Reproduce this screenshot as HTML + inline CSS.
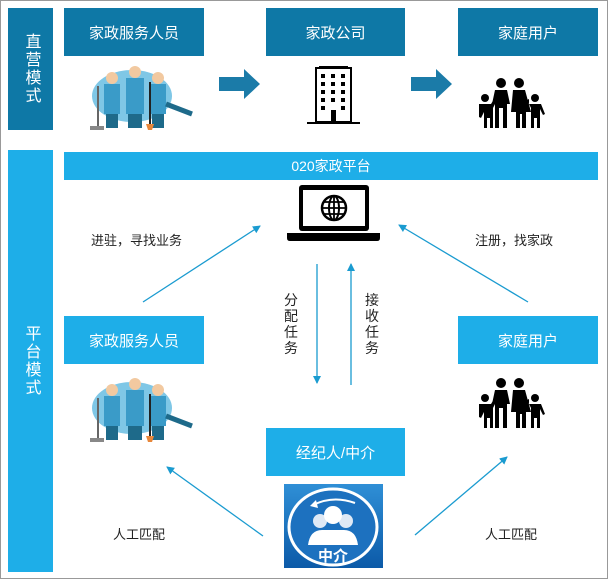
<!DOCTYPE html>
<html><head><meta charset="utf-8"><style>
*{margin:0;padding:0}
body{width:608px;height:579px;background:#fff;position:relative;overflow:hidden;font-family:"Liberation Sans","Noto Sans CJK SC",sans-serif}
.b{position:absolute;color:#fff;font-size:15px;display:flex;align-items:center;justify-content:center}
.d{background:#0e78a6}.l{background:#1eaee8}
.t{position:absolute;font-size:13px;color:#222}
.v{position:absolute;font-size:14px;color:#222;width:16px;line-height:16px;text-align:center}
</style></head><body>
<div style="position:absolute;left:0;top:0;width:606px;height:577px;border:1px solid #999"></div>
<div class="b d" style="left:8px;top:8px;width:45px;height:122px;writing-mode:vertical-rl;letter-spacing:2px;font-size:16px">直营模式</div>
<div class="b l" style="left:8px;top:150px;width:45px;height:422px;writing-mode:vertical-rl;letter-spacing:2px;font-size:16px">平台模式</div>
<div class="b d" style="left:64px;top:8px;width:140px;height:48px">家政服务人员</div>
<div class="b d" style="left:266px;top:8px;width:139px;height:48px">家政公司</div>
<div class="b d" style="left:458px;top:8px;width:140px;height:48px">家庭用户</div>
<div class="b l" style="left:64px;top:152px;width:534px;height:28px;font-size:14px">020家政平台</div>
<div class="b l" style="left:64px;top:316px;width:140px;height:48px">家政服务人员</div>
<div class="b l" style="left:458px;top:316px;width:140px;height:48px">家庭用户</div>
<div class="b l" style="left:266px;top:428px;width:139px;height:48px">经纪人/中介</div>
<div class="t" style="left:91px;top:230px">进驻，寻找业务</div>
<div class="t" style="left:475px;top:230px">注册，找家政</div>
<div class="t" style="left:113px;top:524px">人工匹配</div>
<div class="t" style="left:485px;top:524px">人工匹配</div>
<div class="v" style="left:283px;top:292px">分配任务</div>
<div class="v" style="left:364px;top:292px">接收任务</div>
<svg width="608" height="579" style="position:absolute;left:0;top:0">
<defs>
<marker id="a" markerWidth="8" markerHeight="8" refX="7" refY="4" orient="auto" markerUnits="userSpaceOnUse"><path d="M0,0L8,4L0,8z" fill="#1a9bd0"/></marker>
<g id="fam" fill="#000">
<circle cx="26" cy="5" r="5"/><path d="M20,12h12l3,14h-3v24h-4v-20h-4v20h-4v-24h-3z"/>
<circle cx="44" cy="5" r="5"/><path d="M38,12h12l6,22h-5l0,16h-4v-14h-2v14h-4v-16h-5z"/>
<circle cx="10" cy="20" r="4"/><path d="M4,26h12l5,-8 2,2-5,10v20h-3v-10h-3v10h-3v-16l-3,6-2-1z"/>
<circle cx="60" cy="20" r="4"/><path d="M54,26h12l4,10-2,1-3-6v19h-3v-10h-3v10h-3v-20l-4-8 2-1z"/>
</g>
<g id="wk">
<ellipse cx="48" cy="30" rx="40" ry="26" fill="#7fc7e6"/>
<rect x="20" y="18" width="16" height="30" fill="#3a9bc8"/><rect x="42" y="12" width="18" height="36" fill="#3a9bc8"/><rect x="66" y="18" width="16" height="30" fill="#3a9bc8"/>
<circle cx="28" cy="12" r="6" fill="#f2c9a0"/><circle cx="51" cy="6" r="6" fill="#f2c9a0"/><circle cx="74" cy="12" r="6" fill="#f2c9a0"/>
<rect x="22" y="48" width="12" height="14" fill="#1e6a8a"/><rect x="44" y="48" width="14" height="14" fill="#1e6a8a"/><rect x="68" y="48" width="12" height="14" fill="#1e6a8a"/>
<path d="M82,38l26,10" stroke="#1e6a8a" stroke-width="5"/><path d="M14,20v42" stroke="#666" stroke-width="2"/><rect x="6" y="60" width="14" height="4" fill="#888"/>
<path d="M66,16v44" stroke="#222" stroke-width="2"/><path d="M62,58h8l-2,6h-4z" fill="#e8873a"/>
</g>
</defs>
<use href="#wk" x="84" y="66"/>
<use href="#wk" x="84" y="378"/>
<use href="#fam" x="475" y="78"/>
<use href="#fam" x="475" y="378"/>
<path d="M219,77h25v-8l16,15-16,15v-8h-25z" fill="#1b7ba8"/>
<path d="M411,77h25v-8l16,15-16,15v-8h-25z" fill="#1b7ba8"/>
<!-- building -->
<rect x="316" y="68" width="35" height="54" fill="#fff" stroke="#000" stroke-width="2"/>
<rect x="319" y="66" width="29" height="3" fill="#000"/>
<g fill="#000"><rect x="321" y="74" width="4" height="4"/><rect x="331" y="74" width="4" height="4"/><rect x="341" y="74" width="4" height="4"/>
<rect x="321" y="82" width="4" height="4"/><rect x="331" y="82" width="4" height="4"/><rect x="341" y="82" width="4" height="4"/>
<rect x="321" y="90" width="4" height="4"/><rect x="331" y="90" width="4" height="4"/><rect x="341" y="90" width="4" height="4"/>
<rect x="321" y="98" width="4" height="4"/><rect x="331" y="98" width="4" height="4"/><rect x="341" y="98" width="4" height="4"/>
<rect x="321" y="106" width="4" height="4"/><rect x="341" y="106" width="4" height="4"/><rect x="331" y="110" width="5" height="12"/></g>
<rect x="307" y="122" width="53" height="2" fill="#000"/>
<!-- laptop -->
<rect x="299" y="185" width="70" height="46" rx="3" fill="#000"/>
<rect x="303" y="190" width="62" height="36" fill="#fff"/>
<path d="M287,233h93v5q0,3-3,3h-87q-3,0-3-3z" fill="#000"/>
<circle cx="334" cy="208" r="12" fill="none" stroke="#000" stroke-width="2.5"/>
<ellipse cx="334" cy="208" rx="5" ry="12" fill="none" stroke="#000" stroke-width="2"/>
<path d="M322,208h24M334,196v24M324,202h20M324,214h20" stroke="#000" stroke-width="1.8"/>
<!-- zhongjie icon -->
<defs><linearGradient id="g" x1="0" y1="0" x2="0" y2="1"><stop offset="0" stop-color="#2f8fd6"/><stop offset="1" stop-color="#0c5aa8"/></linearGradient></defs>
<rect x="284" y="484" width="99" height="84" fill="url(#g)"/>
<ellipse cx="333" cy="527" rx="44" ry="38" fill="#1d71bf" stroke="#fff" stroke-width="3"/>
<path d="M355,503q-22,-8-42,2" fill="none" stroke="#fff" stroke-width="2"/><path d="M316,500l-6,6 8,2z" fill="#fff"/>
<circle cx="320" cy="521" r="7" fill="#dfe9f5"/><circle cx="346" cy="521" r="7" fill="#dfe9f5"/><circle cx="333" cy="515" r="9" fill="#fff"/>
<path d="M308,545q2-15 14-15h22q12,0 14,15z" fill="#fff"/>
<text x="333" y="561" font-size="15" font-weight="bold" fill="#fff" text-anchor="middle" font-family="Liberation Sans,Noto Sans CJK SC,sans-serif">中介</text>
<g stroke="#1a9bd0" stroke-width="1.3" marker-end="url(#a)">
<line x1="143" y1="302" x2="260" y2="226"/>
<line x1="528" y1="302" x2="399" y2="225"/>
<line x1="317" y1="264" x2="317" y2="383"/>
<line x1="351" y1="385" x2="351" y2="264"/>
<line x1="263" y1="536" x2="167" y2="467"/>
<line x1="415" y1="535" x2="507" y2="457"/>
</g>
</svg>
</body></html>
